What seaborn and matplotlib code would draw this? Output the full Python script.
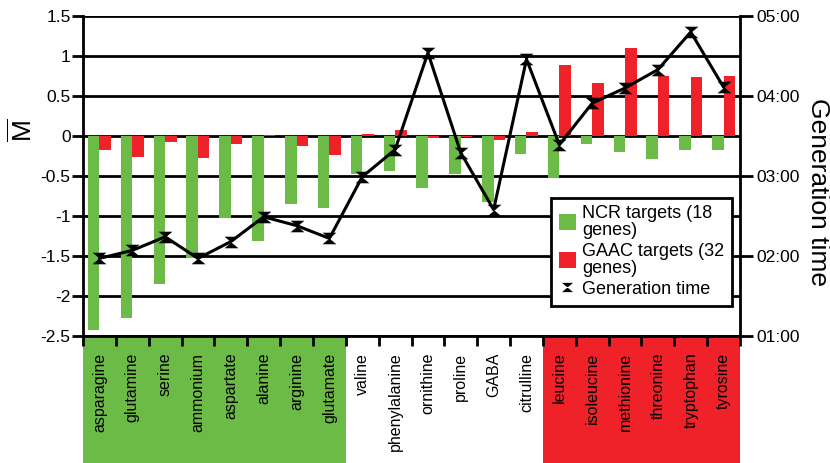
import numpy as np
import pandas as pd
import matplotlib
matplotlib.use("Agg")
import matplotlib.pyplot as plt
import seaborn as sns
from matplotlib.patches import Rectangle, Patch
from matplotlib.lines import Line2D
from matplotlib.transforms import blended_transform_factory

# Nitrogen sources, in plotted order
sources = ["asparagine", "glutamine", "serine", "ammonium", "aspartate", "alanine",
           "arginine", "glutamate", "valine", "phenylalanine", "ornithine", "proline",
           "GABA", "citrulline", "leucine", "isoleucine", "methionine", "threonine",
           "tryptophan", "tyrosine"]

# Mean M value of target genes per nitrogen source
ncr_m = [-2.43, -2.28, -1.85, -1.52, -1.02, -1.31, -0.85, -0.90, -0.47, -0.44,
         -0.65, -0.47, -0.82, -0.22, -0.52, -0.10, -0.20, -0.29, -0.17, -0.18]
gaac_m = [-0.18, -0.26, -0.07, -0.28, -0.10, 0.01, -0.13, -0.24, 0.02, 0.08,
          -0.03, -0.01, -0.05, 0.05, 0.89, 0.66, 1.10, 0.75, 0.74, 0.75]

# Generation time in hours
gen_hours = [1.97, 2.07, 2.24, 1.97, 2.18, 2.49, 2.38, 2.22, 2.99, 3.33,
             4.54, 3.29, 2.58, 4.46, 3.39, 3.91, 4.10, 4.33, 4.80, 4.11]

series_names = ["NCR targets (18\ngenes)", "GAAC targets (32\ngenes)"]
left_ticks = [-2.5, -2, -1.5, -1, -0.5, 0, 0.5, 1, 1.5]
left_tick_labels = ["-2.5", "-2", "-1.5", "-1", "-0.5", "0", "0.5", "1", "1.5"]
right_ticks = [1, 2, 3, 4, 5]
right_tick_labels = ["01:00", "02:00", "03:00", "04:00", "05:00"]

GREEN = "#6cbb47"
RED = "#ee2228"

sns.set_theme(style="white")
plt.rcParams["font.family"] = ["Liberation Sans", "DejaVu Sans"]
plt.rcParams["mathtext.fontset"] = "custom"
plt.rcParams["mathtext.rm"] = "Liberation Sans"

df = pd.DataFrame({
    "source": sources * 2,
    "M": ncr_m + gaac_m,
    "set": [series_names[0]] * len(sources) + [series_names[1]] * len(sources),
})

fig = plt.figure(figsize=(8.3, 4.63), dpi=100)
ax = fig.add_axes([0.1, 0.2743, 0.7916, 0.6911])

sns.barplot(data=df, x="source", y="M", hue="set", order=sources,
            hue_order=series_names, palette=[GREEN, RED], width=0.7,
            saturation=1, linewidth=0, legend=False, ax=ax)

n = len(sources)
ax.set_xlim(-0.5, n - 0.5)
ax.set_ylim(-2.5, 1.5)
ax.set_axisbelow(True)
ax.yaxis.grid(True, color="black", linewidth=2.0)
ax.xaxis.grid(False)

ax.set_yticks(left_ticks)
ax.set_yticklabels(left_tick_labels, fontsize=12.5)
ax.tick_params(axis="y", which="major", direction="out", length=8, width=2,
               color="black", pad=1, labelcolor="black", left=True)

ax.set_xticks(range(n))
ax.set_xticklabels(sources, rotation=90, fontsize=11.5, va="top", ha="center")
ax.set_xticks(np.arange(-0.5, n, 1), minor=True)
ax.tick_params(axis="x", which="major", length=0, pad=12, labelcolor="black")
ax.tick_params(axis="x", which="minor", direction="out", length=7, width=2,
               color="black", bottom=True)
ax.set_xlabel("")
ax.set_ylabel("")

for side in ["left", "bottom"]:
    ax.spines[side].set_color("black")
    ax.spines[side].set_linewidth(2)
for side in ["top", "right"]:
    ax.spines[side].set_visible(False)

# Axis title for M, placed at the level of zero
ax.text(-0.092, 0.645, r"$\overline{\mathrm{M}}$", transform=ax.transAxes,
        fontsize=19, rotation=90, ha="center", va="center", color="black")

# Coloured bands behind the category labels
trans = blended_transform_factory(ax.transData, ax.transAxes)
ax.add_patch(Rectangle((-0.5, -0.45), 8, 0.45, transform=trans, clip_on=False,
                       facecolor=GREEN, edgecolor="none", zorder=0))
ax.add_patch(Rectangle((13.5, -0.45), 6, 0.45, transform=trans, clip_on=False,
                       facecolor=RED, edgecolor="none", zorder=0))

# Generation time on the right axis
ax2 = ax.twinx()
hourglass = [(-1.2, 1), (1.2, 1), (-1.2, -1), (1.2, -1), (-1.2, 1)]
sns.lineplot(x=np.arange(n), y=gen_hours, color="black", linewidth=2.2,
             marker=hourglass, markersize=10, markeredgewidth=0,
             markerfacecolor="black", ax=ax2)
ax2.set_ylim(1, 5)
ax2.set_yticks(right_ticks)
ax2.set_yticklabels(right_tick_labels, fontsize=12.5)
ax2.tick_params(axis="y", direction="out", length=9, width=2, color="black",
                pad=3, labelcolor="black", right=True)
ax2.grid(False)
ax2.set_ylabel("")
for side in ["left", "bottom", "top"]:
    ax2.spines[side].set_visible(False)
ax2.spines["right"].set_color("black")
ax2.spines["right"].set_linewidth(2)
ax2.text(1.118, 0.45, "Generation time", transform=ax2.transAxes, fontsize=19,
         rotation=-90, ha="center", va="center", color="black")

handles = [
    Patch(facecolor=GREEN, edgecolor="none", label=series_names[0]),
    Patch(facecolor=RED, edgecolor="none", label=series_names[1]),
    Line2D([], [], color="black", linestyle="None", marker=hourglass,
           markersize=8, markeredgewidth=0, label="Generation time"),
]
leg = ax2.legend(handles=handles, loc="lower left", bbox_to_anchor=(0.713, 0.095),
                 fontsize=13, frameon=True, fancybox=False, framealpha=1,
                 edgecolor="black", handlelength=0.95, handleheight=1.0,
                 handletextpad=0.35, labelspacing=0.2, borderpad=0.4,
                 borderaxespad=0)
leg.get_frame().set_linewidth(2)
for t in leg.get_texts():
    t.set_linespacing(1.0)
    t.set_color("black")

fig.savefig("out.png", dpi=100)
